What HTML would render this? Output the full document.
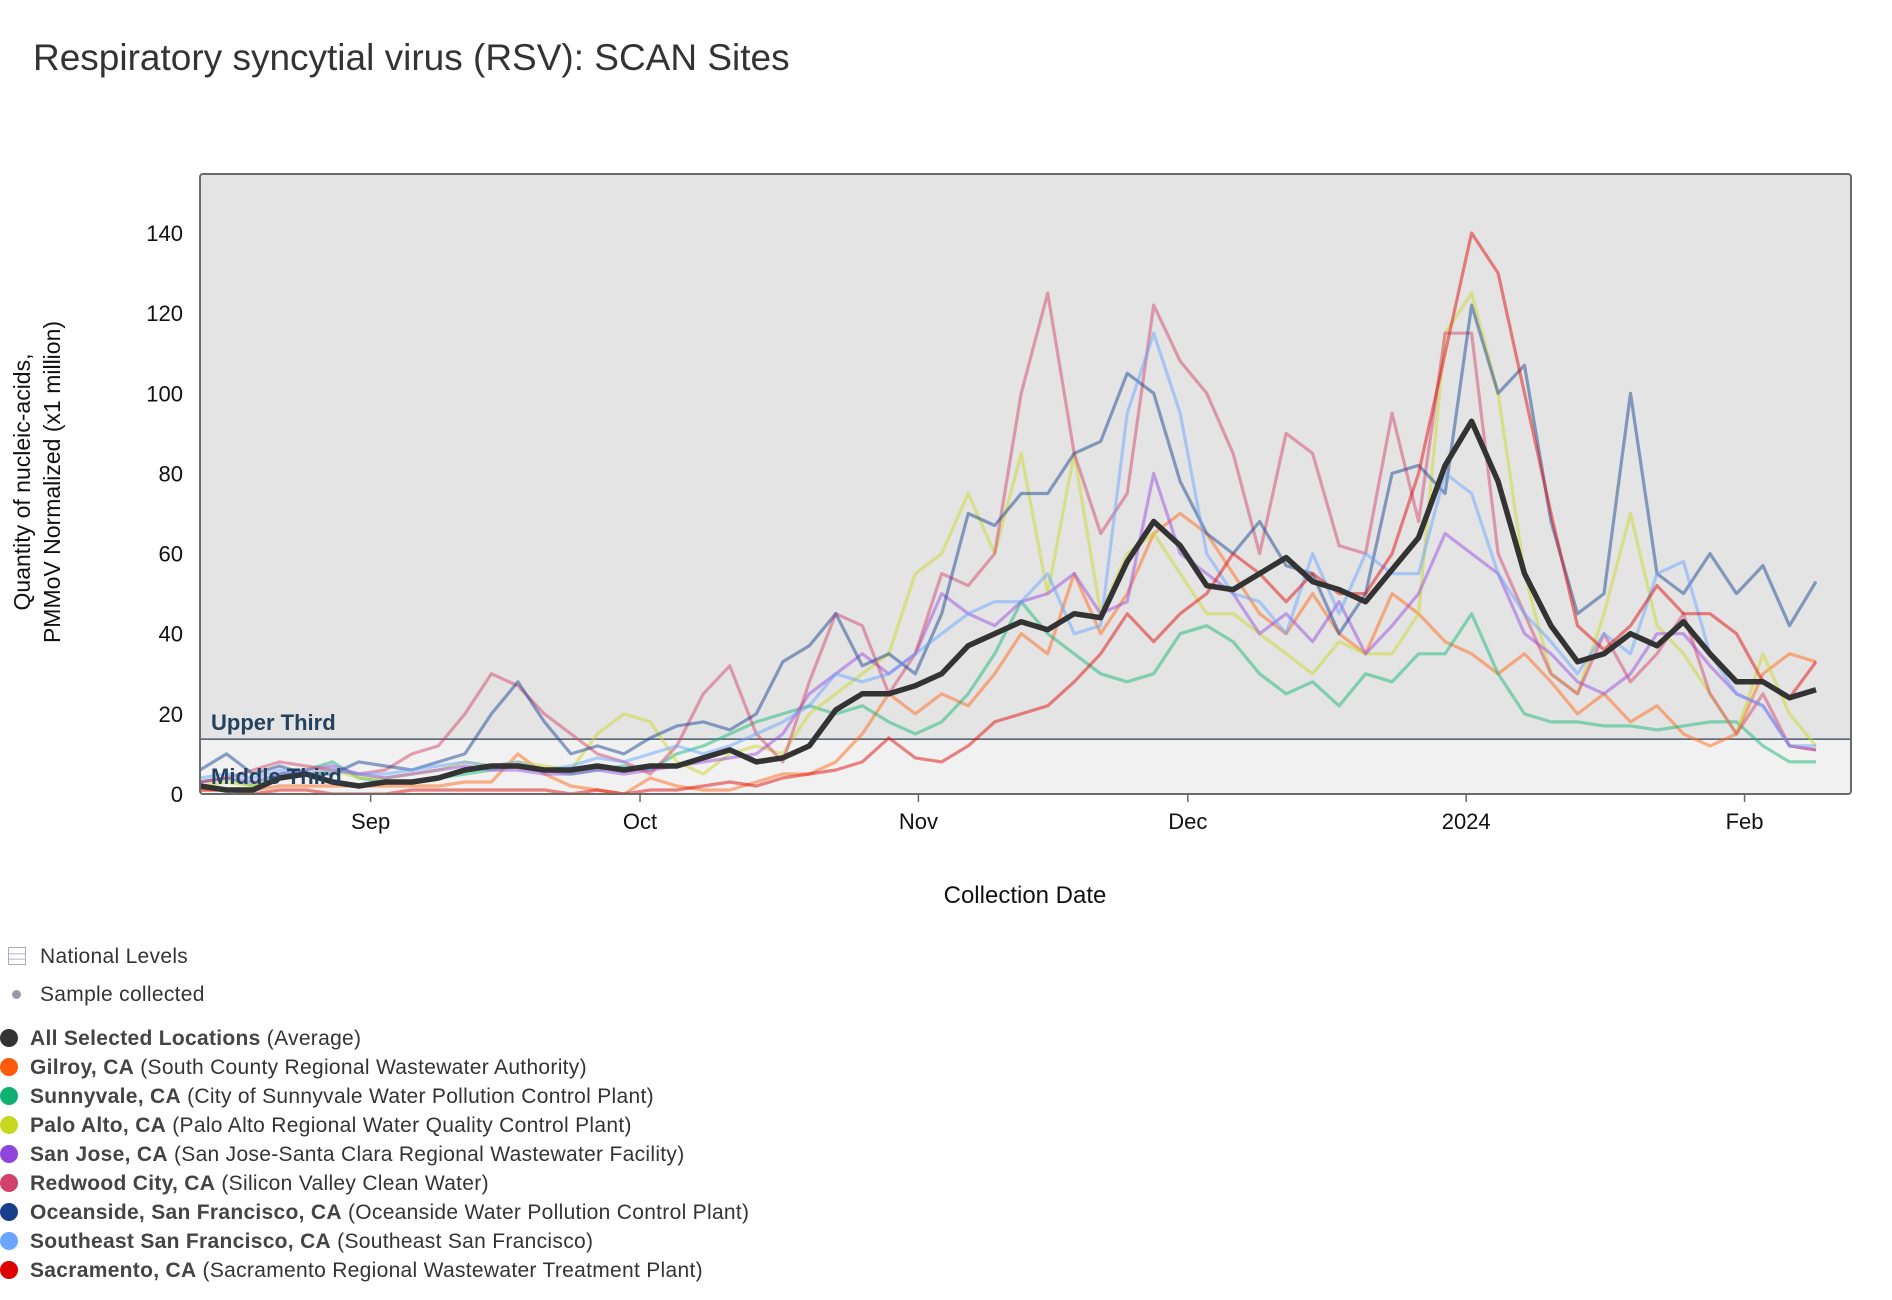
<!DOCTYPE html>
<html><head><meta charset="utf-8"><style>
html,body{margin:0;padding:0;background:#fff;width:1892px;height:1300px;overflow:hidden;font-family:"Liberation Sans",sans-serif}
#title{position:absolute;left:33px;top:37px;font-size:37px;color:#333;}
.leg{position:absolute;left:0;font-size:21px;color:#333;white-space:nowrap;letter-spacing:0.3px}
.leg b{color:#444}
.dot{display:inline-block;width:18px;height:18px;border-radius:50%;vertical-align:-2px;margin-right:12px}
</style></head><body>
<div id="title">Respiratory syncytial virus (RSV): SCAN Sites</div>
<svg id="chart" width="1892" height="930" style="position:absolute;left:0;top:0"></svg>
<div class="leg" style="top:945px;left:8px"><span style="display:inline-block;width:16px;height:16px;border:1px solid #aab;background:linear-gradient(#fff 30%,#ccd 30%,#ccd 40%,#fff 40%,#fff 65%,#ccd 65%,#ccd 75%,#fff 75%);vertical-align:-2px;margin-right:14px"></span>National Levels</div>
<div class="leg" style="top:983px;left:12px"><span style="display:inline-block;width:9px;height:9px;border-radius:50%;background:#999aa8;vertical-align:2px;margin-right:19px"></span>Sample collected</div>
<div id="legend"></div>
<script>
const NS="http://www.w3.org/2000/svg";
const startDate=new Date(2023,7,13);
const stepDays=2.95;
const avgVals=[2,1,1,4,5,3,2,3,3,4,6,7,7,6,6,7,6,7,7,9,11,8,9,12,21,25,25,27,30,37,40,43,41,45,44,58,68,62,52,51,55,59,53,51,48,56,64,82,93,78,55,42,33,35,40,37,43,35,28,28,24,26];
const gilroyVals=[1,1,1,2,2,2,2,2,2,2,3,3,10,5,2,1,0,4,2,1,1,3,5,5,8,15,25,20,25,22,30,40,35,55,40,50,65,70,65,55,45,40,50,40,35,50,45,38,35,30,35,28,20,25,18,22,15,12,15,30,35,33];
const sunnyvaleVals=[3,4,2,5,6,8,4,3,3,4,5,6,7,6,5,6,7,6,10,12,15,18,20,22,20,22,18,15,18,25,35,48,40,35,30,28,30,40,42,38,30,25,28,22,30,28,35,35,45,30,20,18,18,17,17,16,17,18,18,12,8,8];
const paloAltoVals=[2,3,2,4,5,6,4,4,5,6,8,7,8,7,6,15,20,18,8,5,10,12,10,20,25,30,35,55,60,75,60,85,50,85,45,60,65,55,45,45,40,35,30,38,35,35,45,115,125,100,55,30,25,45,70,42,35,25,15,35,20,12];
const sanJoseVals=[3,4,3,5,6,7,5,4,5,6,7,6,6,5,5,6,5,6,7,8,9,10,15,25,30,35,30,35,50,45,42,48,50,55,45,48,80,60,55,50,40,45,38,48,35,42,50,65,60,55,40,35,28,25,30,40,40,32,25,22,12,11];
const redwoodVals=[3,4,6,8,7,6,5,6,10,12,20,30,27,20,15,10,8,5,12,25,32,15,8,28,45,42,25,35,55,52,60,100,125,85,65,75,122,108,100,85,60,90,85,62,60,95,68,115,115,60,45,30,25,40,28,35,45,25,15,25,12,11];
const oceansideVals=[6,10,5,7,5,5,8,7,6,8,10,20,28,18,10,12,10,14,17,18,16,20,33,37,45,32,35,30,45,70,67,75,75,85,88,105,100,78,65,60,68,57,55,40,50,80,82,75,122,100,107,68,45,50,100,55,50,60,50,57,42,53];
const southeastVals=[4,5,4,6,5,6,5,5,6,7,8,7,8,6,7,9,8,10,12,10,12,15,18,22,30,28,30,35,40,45,48,48,55,40,42,95,115,95,60,50,48,40,60,45,60,55,55,80,75,55,45,38,30,40,35,55,58,35,25,22,12,12];
const sacramentoVals=[1,1,0,1,1,0,0,0,1,1,1,1,1,1,0,1,0,1,1,2,3,2,4,5,6,8,14,9,8,12,18,20,22,28,35,45,38,45,50,60,55,48,55,50,50,60,80,110,140,130,100,70,42,36,42,52,45,45,40,28,24,33];
const yTicks=[0,20,40,60,80,100,120,140];
const xTickLabels=["Sep","Oct","Nov","Dec","2024","Feb"];
const xTickDates=[new Date(2023,8,1),new Date(2023,9,1),new Date(2023,10,1),new Date(2023,11,1),new Date(2024,0,1),new Date(2024,1,1)];
const thresholdVal=13.7;

const L=200,R=1851,T=174,B=794;
const x0=new Date(2023,7,13).getTime(), pxPerDay=8.98;
function xScale(d){return L+(d.getTime()-x0)/86400000*pxPerDay;}
function yScale(v){return B-v*4.007;}
function mk(tag,attrs,parent){const e=document.createElementNS(NS,tag);for(const k in attrs)e.setAttribute(k,attrs[k]);(parent||svg).appendChild(e);return e;}
const svg=document.getElementById('chart');
const defs=mk('defs',{});
const cp=mk('clipPath',{id:'clip'},defs);mk('rect',{x:L,y:T,width:R-L,height:B-T},cp);
let e;
e=mk('rect',{x:L,y:T,width:R-L,height:B-T,fill:'#e4e4e4'});

e=mk('rect',{x:L,y:yScale(thresholdVal),width:R-L,height:B-yScale(thresholdVal),fill:'#f1f1f1'});

e=mk('line',{x1:L,x2:R,y1:yScale(thresholdVal),y2:yScale(thresholdVal),stroke:'#2b3d52','stroke-width':1.3});

yTicks.forEach(v=>{const t=mk('text',{x:183,y:yScale(v)+8,'text-anchor':'end','font-size':22,fill:'#111'});t.textContent=v;
});
xTickLabels.forEach((lab,i)=>{const x=xScale(xTickDates[i]);mk('line',{x1:x,x2:x,y1:B,y2:B+8,stroke:'#666','stroke-width':1.5});
const t=mk('text',{x:x,y:B+35,'text-anchor':'middle','font-size':22,fill:'#111'});t.textContent=lab;
});
const series=[
 ['gilroy',gilroyVals,'#ff6a1a'],['sunnyvale',sunnyvaleVals,'#18b87a'],['palo-alto',paloAltoVals,'#cbd82a'],
 ['san-jose',sanJoseVals,'#9a4de0'],['redwood-city',redwoodVals,'#d1486f'],['oceanside',oceansideVals,'#1d4791'],
 ['southeast-sf',southeastVals,'#6aa6ff'],['sacramento',sacramentoVals,'#e01010']];
const g=mk('g',{'clip-path':'url(#clip)'});
function pts(vals){return vals.map((v,i)=>{const d=new Date(startDate.getTime()+i*stepDays*86400000);return xScale(d).toFixed(1)+','+yScale(v).toFixed(1);}).join(' ');}
series.forEach(s=>{const p=mk('polyline',{points:pts(s[1]),fill:'none',stroke:s[2],'stroke-opacity':0.5,'stroke-width':3.2,'stroke-linejoin':'round'},g);
});
e=mk('polyline',{points:pts(avgVals),fill:'none',stroke:'#333','stroke-width':5.5,'stroke-linejoin':'round'},g);

e=mk('rect',{x:L,y:T,width:R-L,height:B-T,fill:'none',stroke:'#6a6a6a','stroke-width':2,rx:3});

e=mk('text',{x:211,y:730,'font-size':22,'font-weight':'bold',fill:'#24415e'});e.textContent='Upper Third';

e=mk('text',{x:211,y:784,'font-size':22,'font-weight':'bold',fill:'#24415e'});e.textContent='Middle Third';

e=mk('text',{x:1025,y:903,'text-anchor':'middle','font-size':24,fill:'#111'});e.textContent='Collection Date';

const yt=mk('text',{transform:'translate(30,482) rotate(-90)','text-anchor':'middle','font-size':23,fill:'#111'});

mk('tspan',{x:0,dy:0},yt).textContent='Quantity of nucleic-acids,';
mk('tspan',{x:0,dy:30},yt).textContent='PMMoV Normalized (x1 million)';

const legItems=[['All Selected Locations','(Average)','#333'],['Gilroy, CA','(South County Regional Wastewater Authority)','#ff5a0a'],
['Sunnyvale, CA','(City of Sunnyvale Water Pollution Control Plant)','#10b070'],['Palo Alto, CA','(Palo Alto Regional Water Quality Control Plant)','#c8d820'],
['San Jose, CA','(San Jose-Santa Clara Regional Wastewater Facility)','#8e44dd'],['Redwood City, CA','(Silicon Valley Clean Water)','#d0416c'],
['Oceanside, San Francisco, CA','(Oceanside Water Pollution Control Plant)','#1a3f8a'],['Southeast San Francisco, CA','(Southeast San Francisco)','#6aa6ff'],
['Sacramento, CA','(Sacramento Regional Wastewater Treatment Plant)','#dd0000']];
const lg=document.getElementById('legend');
legItems.forEach((it,i)=>{const d=document.createElement('div');d.className='leg';d.style.top=(1027+i*29)+'px';


d.innerHTML='<span class="dot" style="background:'+it[2]+'"></span><b>'+it[0]+'</b> '+it[1];lg.appendChild(d);});
</script>
</body></html>
